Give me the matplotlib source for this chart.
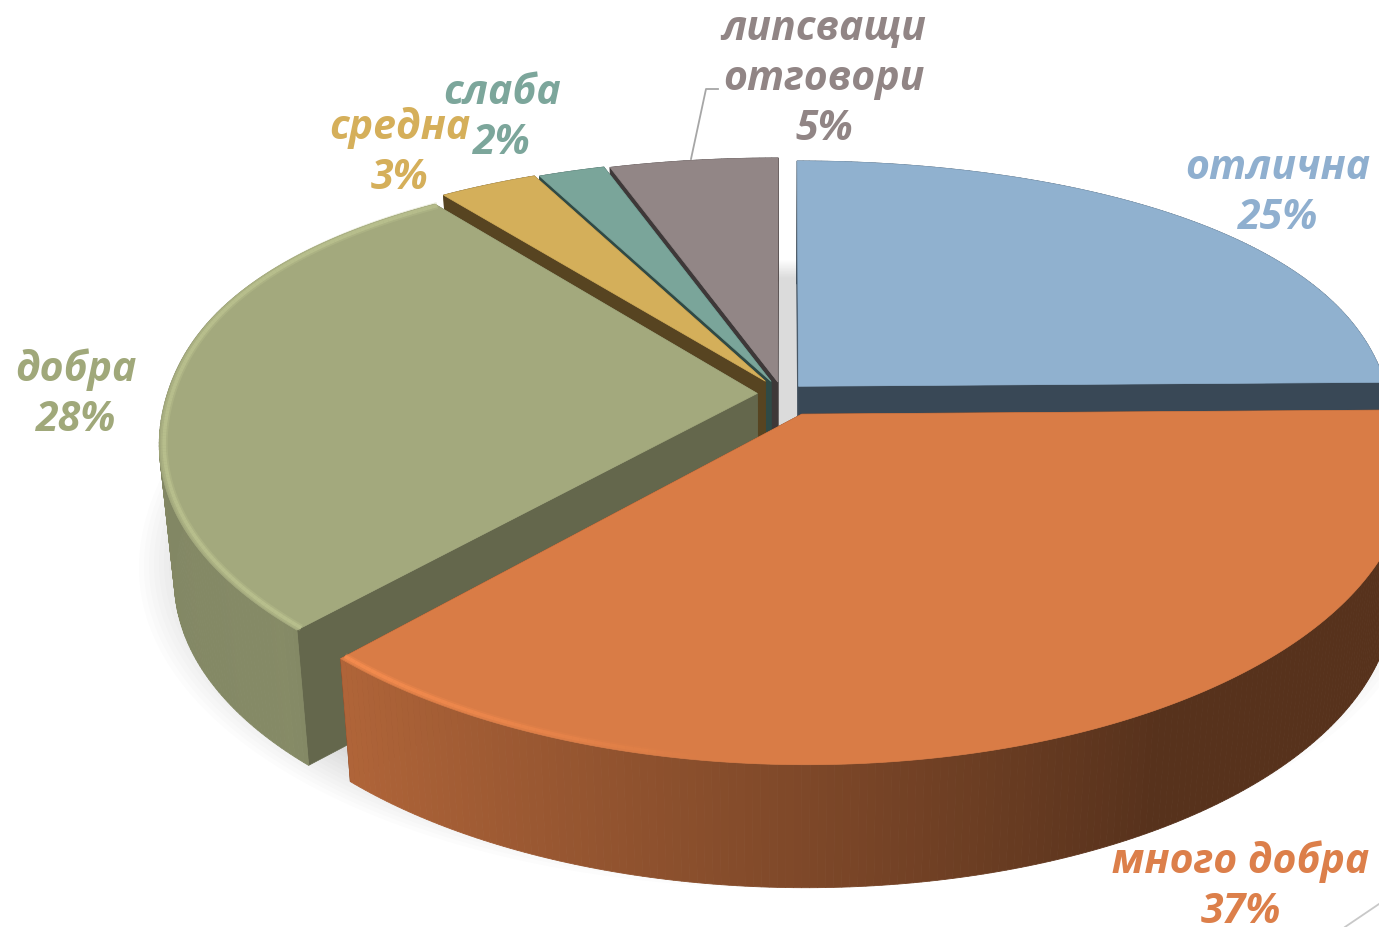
import numpy as np
import matplotlib
matplotlib.use('Agg')
import matplotlib.pyplot as plt
from matplotlib.patches import Polygon

# data
labels = ['отлична', 'много добра', 'добра', 'средна', 'слаба', 'липсващи\nотговори']
values = [25, 37, 28, 3, 2, 5]
explode = [0.04, 0.08, 0.042, 0.055, 0.05, 0.045]
depth = [1, 1, 1.1, 1, 1, 1]
top_colors = ['#90b1cf', '#d97c46', '#a3a97d', '#d4af5a', '#7aa59a', '#928686']
side_colors = ['#394856', '#5a3019', '#64674c', '#574421', '#2f4a46', '#3e3838']
text_colors = ['#8fafcf', '#dc7f4a', '#a0a87a', '#d5af5a', '#7ca69b', '#918585']
label_pos = [(1278, 189), (1241, 883), (76, 391), (400, 149), (502, 114), (824, 75)]

# camera of the tilted pie, in pixels
cx, cy = 782, 395
a, b, d = 590, 272.5, 123
p, g = 0.197, 0.022


def project(x, y, z=0.0):
    # the back half narrows less than the front half widens
    wx = 1 + 0.085 * y + 0.055 * (y - np.sqrt(y * y + 0.05) + np.sqrt(0.05))
    w = 1 + p * y
    return cx + a * x * (1 - g * z) / wx, cy - b * y / w + d * z


def warp(t):
    # the original pie looks a little turned, mostly on its front side
    return t - np.deg2rad(1.2) * np.sin(t / 2)


def shade(theta):
    nx = np.sin(theta)
    return np.interp(nx, [-1, -0.7, 0, 0.5, 1], [0.8, 0.82, 0.58, 0.40, 0.40])


def hex_rgb(c):
    return np.array(matplotlib.colors.to_rgb(c))


fig = plt.figure(figsize=(13.79, 9.28), dpi=100)
ax = fig.add_axes([0, 0, 1, 1])
ax.set_xlim(0, 1379)
ax.set_ylim(928, 0)
ax.axis('off')

# floor shadow
tt = np.linspace(0, 2 * np.pi, 300)
for r in np.linspace(1.09, 1.0, 12):
    sx, sy = project(r * np.sin(tt), r * np.cos(tt) - 0.02, 0.87)
    ax.add_patch(Polygon(np.c_[sx, sy], fc='k', ec='none', alpha=0.011, zorder=1))

# slice angles, clockwise from the top
edges = warp(np.deg2rad(np.cumsum([0] + values) * 3.6))
order = [5, 4, 3, 0, 2, 1]
z = 2
for i in order:
    t0, t1 = edges[i], edges[i + 1]
    mid = (t0 + t1) / 2
    ox, oy = explode[i] * np.sin(mid), explode[i] * np.cos(mid)
    th = np.linspace(t0, t1, max(8, int((t1 - t0) * 90)))
    xs, ys = ox + np.sin(th), oy + np.cos(th)
    h = depth[i]

    # straight cut walls
    for t in (t0, t1):
        x1, y1 = ox + np.sin(t), oy + np.cos(t)
        q = [project(ox, oy), project(x1, y1), project(x1, y1, h), project(ox, oy, h)]
        ax.add_patch(Polygon(q, fc=side_colors[i], ec=side_colors[i], lw=0.5, zorder=z))
    z += 1

    # outer wall, shaded strip by strip
    for j in range(len(th) - 1):
        q = [project(xs[j], ys[j]), project(xs[j + 1], ys[j + 1]),
             project(xs[j + 1], ys[j + 1], h), project(xs[j], ys[j], h)]
        col = hex_rgb(top_colors[i]) * shade((th[j] + th[j + 1]) / 2)
        if i == 0 or i > 2:
            col = hex_rgb(side_colors[i])
        ax.add_patch(Polygon(q, fc=col, ec=col, lw=0.6, zorder=z))
    z += 1

    # top face
    tx, ty = project(np.r_[ox, xs], np.r_[oy, ys])
    ax.add_patch(Polygon(np.c_[tx, ty], fc=top_colors[i], ec=top_colors[i], lw=0.5, zorder=z))
    z += 1

    # bevel on the front rim, soft so it fades into the face
    if i in (1, 2):
        rim = np.clip(hex_rgb(top_colors[i]) * 1.16, 0, 1)
        for j in range(len(th) - 1):
            nx = np.sin(th[j])
            alpha = np.clip(0.7 - 1.2 * (nx + 0.7), 0.0, 0.7)
            rx, ry = project(ox + np.sin(th[j:j + 2]) * 0.992, oy + np.cos(th[j:j + 2]) * 0.992)
            ax.plot(rx, ry, color=rim, lw=5, alpha=alpha * 0.5, zorder=z, solid_capstyle='butt')
            ax.plot(rx, ry, color=rim, lw=2.5, alpha=alpha, zorder=z, solid_capstyle='butt')
        z += 1

# leader lines
ax.plot([691, 706, 718], [160, 90, 90], color='#a6a6a6', lw=1.3, zorder=z)
ax.plot([1345, 1379], [928, 905], color='#c8c8c8', lw=1.3, zorder=z)

# each line of a label is its own text, the neighbours sit very close
for lab, v, pos, col in zip(labels, values, label_pos, text_colors):
    lines = f'{lab}\n{v}%'.split('\n')
    for k, line in enumerate(lines):
        ax.text(pos[0], pos[1] + 50 * (k - (len(lines) - 1) / 2) + 15, line, color=col,
                ha='center', va='baseline', family=['Open Sans', 'DejaVu Sans'],
                style='italic', weight='bold', fontsize=29.5, zorder=z + 1)

fig.savefig('out.png', dpi=100)
